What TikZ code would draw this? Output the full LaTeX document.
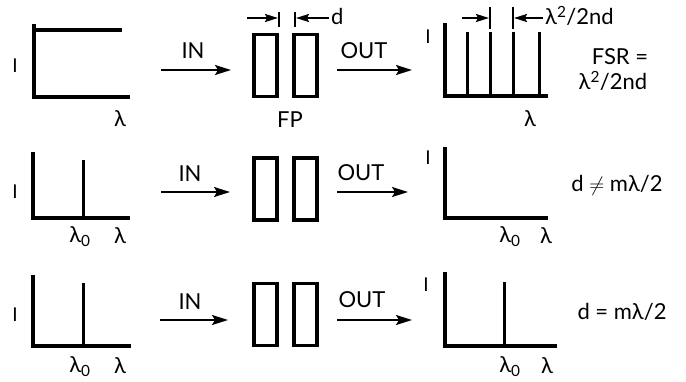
\documentclass[tikz,border=0pt]{standalone}
\usepackage{fontspec}
\setmainfont{Lato}
\usetikzlibrary{arrows.meta}
\begin{document}
\begin{tikzpicture}[x=1pt,y=-1pt,>={Stealth[length=16pt,width=10pt,inset=3pt]},
  every node/.style={font=\fontsize{22}{25}\selectfont,inner sep=0pt},
  ilab/.style={font=\fontsize{19}{21}\selectfont},
  axis/.style={line width=3.5pt},
  spike/.style={line width=3pt},
  tick/.style={line width=1.8pt},
  plate/.style={draw,line width=3.4pt,minimum width=23pt,minimum height=62pt},
  flow/.style={->,line width=1.8pt},
  gap/.style={-{Stealth[length=13pt,width=8pt,inset=2pt]},line width=2pt}]
\useasboundingbox (0,0) rectangle (686,381);
% row 1: white light through the etalon
\draw[axis] (34,24) -- (34,97) -- (130,97);
\draw[axis] (34,30) -- (122,30);
\node[ilab] (i1) at (15,66) {I};
\node (lam1) at (120,119) {λ};
\node[plate] (fp1a) at (265.5,65.5) {};
\node[plate] (fp1b) at (305.5,65.5) {};
\node (fp) at (290,120) {FP};
\draw[tick] (279,12) -- (279,27);
\draw[tick] (295,12) -- (295,27);
\coordinate (da) at (247,18);
\coordinate (db) at (278,18);
\coordinate (dc) at (329,18);
\coordinate (dd) at (296,18);
\draw[gap] (da) -- (db);
\draw[gap] (dc) -- (dd);
\node[anchor=west] (d) at (331,16) {d};
\coordinate (in1a) at (161,70);
\coordinate (in1b) at (231,70);
\draw[flow] (in1a) -- (in1b);
\node (inlab1) at (193,51) {IN};
\coordinate (out1a) at (337,70);
\coordinate (out1b) at (412,70);
\draw[flow] (out1a) -- (out1b);
\node (outlab1) at (364,51) {OUT};
\draw[axis] (445,23) -- (445,96) -- (548,96);
\foreach \x in {467,490,513,539}
  \draw[spike] (\x,96) -- (\x,32);
\node[ilab] (i2) at (428,37) {I};
\draw[tick] (490,7) -- (490,29);
\draw[tick] (513,7) -- (513,29);
\coordinate (fa) at (462,18);
\coordinate (fb) at (489,18);
\coordinate (fc) at (543,18);
\coordinate (fd) at (514,18);
\draw[gap] (fa) -- (fb);
\draw[gap] (fc) -- (fd);
\node[anchor=west] (fsrtop) at (545,16) {λ\textsuperscript{2}/2nd};
\node (lam2) at (530,119) {λ};
\node (fsr) at (620,57) {FSR =};
\node (fsrval) at (613,81) {λ\textsuperscript{2}/2nd};
% row 2: line off resonance
\draw[axis] (33,152) -- (33,218) -- (130,218);
\draw[spike] (83,218) -- (83,160);
\node[ilab] (i3) at (15,192) {I};
\node (lz3) at (80,237) {λ\textsubscript{0}};
\node (lam3) at (120,236) {λ};
\node[plate] (fp2a) at (265.5,189) {};
\node[plate] (fp2b) at (305.5,189) {};
\coordinate (in2a) at (161,192);
\coordinate (in2b) at (230,192);
\draw[flow] (in2a) -- (in2b);
\node (inlab2) at (190,174) {IN};
\coordinate (out2a) at (337,192);
\coordinate (out2b) at (408,192);
\draw[flow] (out2a) -- (out2b);
\node (outlab2) at (361,173) {OUT};
\draw[axis] (445,147) -- (445,218) -- (548,218);
\node[ilab] (i4) at (428,158) {I};
\node (lz4) at (510,237) {λ\textsubscript{0}};
\node (lam4) at (546,236) {λ};
\node (neq) at (617,185) {d $\neq$ mλ/2};
% row 3: line on resonance
\draw[axis] (33,275) -- (33,346) -- (131,346);
\draw[spike] (83,346) -- (83,283);
\node[ilab] (i5) at (15,315) {I};
\node (lz5) at (80,367) {λ\textsubscript{0}};
\node (lam5) at (120,366) {λ};
\node[plate] (fp3a) at (265.5,314.5) {};
\node[plate] (fp3b) at (305.5,314.5) {};
\coordinate (in3a) at (160,320);
\coordinate (in3b) at (228,320);
\draw[flow] (in3a) -- (in3b);
\node (inlab3) at (190,302) {IN};
\coordinate (out3a) at (337,320);
\coordinate (out3b) at (412,320);
\draw[flow] (out3a) -- (out3b);
\node (outlab3) at (362,300) {OUT};
\draw[axis] (445,272) -- (445,346) -- (557,346);
\draw[spike] (504,346) -- (504,282);
\node[ilab] (i6) at (426,285) {I};
\node (lz6) at (510,367) {λ\textsubscript{0}};
\node (lam6) at (547,366) {λ};
\node (eq) at (622,312) {d = mλ/2};
\end{tikzpicture}
\end{document}
